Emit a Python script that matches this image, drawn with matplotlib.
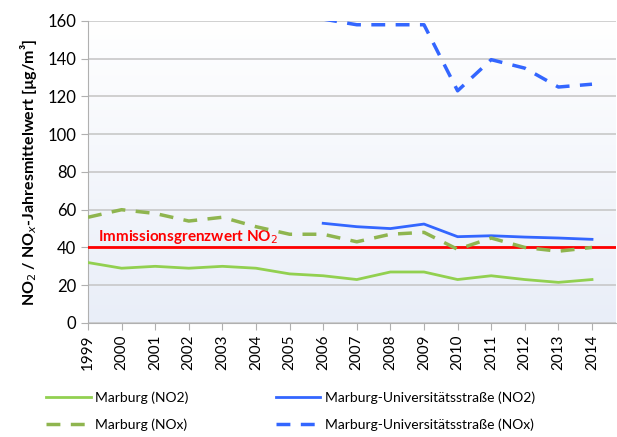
import numpy as np
import matplotlib

matplotlib.use("Agg")
import matplotlib.pyplot as plt

years = list(range(1999, 2015))
marburg_no2 = [32, 29, 30, 29, 30, 29, 26, 25, 23, 27, 27, 23, 25, 23, 21.5, 23]
marburg_nox = [56, 60, 58, 54, 56, 51, 47, 47, 43, 47, 48, 39, 45, 40, 38, 40]
uni_years = list(range(2006, 2015))
uni_no2 = [52.8, 51, 50, 52.4, 45.7, 46.2, 45.5, 45, 44.3]
uni_nox = [161, 158, 158, 158, 123, 139.5, 135, 125, 126.5]
grenzwert = 40

plt.rcParams["font.family"] = ["Lato", "DejaVu Sans"]

fig = plt.figure(figsize=(6.17, 4.37), dpi=100)
ax = fig.add_axes([0.1426, 0.261, 0.855, 0.691])

ax.set_xlim(1999, 2014.7)
ax.set_ylim(0, 160)

# light blue gradient background
grad = np.linspace(0, 1, 256).reshape(-1, 1)
cmap = matplotlib.colors.LinearSegmentedColormap.from_list("bg", ["#e9eef8", "#ffffff"])
ax.imshow(grad, extent=[1999, 2014.7, 0, 160], aspect="auto", origin="lower",
          cmap=cmap, zorder=0)

ax.set_yticks(range(0, 161, 20))
ax.yaxis.grid(True, color="#c8c8c8", linewidth=1.2, zorder=1)
ax.set_axisbelow(True)
ax.set_xticks(years)
ax.set_xticklabels([str(y) for y in years], rotation=90, fontsize=11)
ax.tick_params(axis="y", labelsize=12, length=5, color="#b0b0b0")
ax.tick_params(axis="x", length=5, color="#b0b0b0")
for side in ["top", "right"]:
    ax.spines[side].set_visible(False)
ax.spines["left"].set_color("#b0b0b0")
ax.spines["bottom"].set_color("#b0b0b0")

ax.axhline(grenzwert, color="#ff0000", linewidth=2, zorder=3)
ax.text(1999.3, 43.5, "Immissionsgrenzwert NO$_2$", color="#ff0000",
        fontsize=11, fontweight="bold", zorder=4)

l1, = ax.plot(years, marburg_no2, color="#92d050", linewidth=2, zorder=4)
l2, = ax.plot(uni_years, uni_no2, color="#3366ff", linewidth=2, zorder=4)
l3, = ax.plot(years, marburg_nox, color="#8fb54f", linewidth=2.5,
              linestyle=(0, (4, 3)), zorder=4)
l4, = ax.plot(uni_years, uni_nox, color="#3366ff", linewidth=2.5,
              linestyle=(0, (4, 3)), zorder=4)

ax.set_ylabel("NO$_2$ / NO$_x$-Jahresmittelwert [µg/m³]", fontsize=11.5,
              fontweight="bold", labelpad=6)

fig.legend([l1, l3, l2, l4],
           ["Marburg (NO2)", "Marburg (NOx)",
            "Marburg-Universitätsstraße (NO2)", "Marburg-Universitätsstraße (NOx)"],
           loc="lower left", bbox_to_anchor=(0.055, -0.015),
           ncol=2, frameon=False, fontsize=10, columnspacing=6.3,
           handlelength=3.2, handletextpad=0.3, labelspacing=1.05)

fig.savefig("out.png", dpi=100)
